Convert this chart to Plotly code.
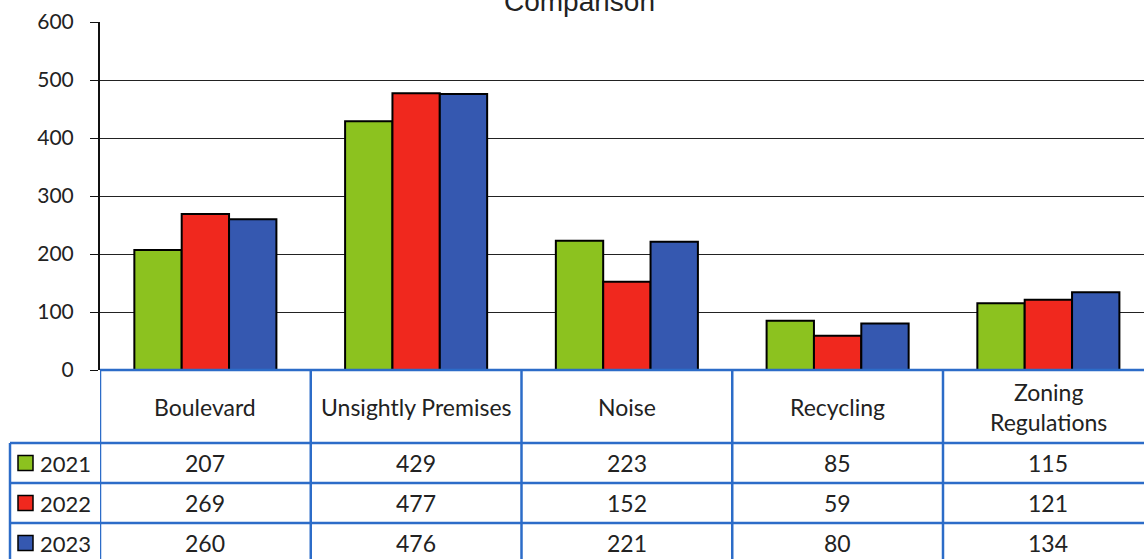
import plotly.graph_objects as go

categories = ["Boulevard", "Unsightly Premises", "Noise", "Recycling", "Zoning<br>Regulations"]
years = ["2021", "2022", "2023"]
values_2021 = [207, 429, 223, 85, 115]
values_2022 = [269, 477, 152, 59, 121]
values_2023 = [260, 476, 221, 80, 134]
series = [values_2021, values_2022, values_2023]
colors = ["#8CC21F", "#F0281E", "#3558B0"]
y_ticks = [0, 100, 200, 300, 400, 500, 600]
title_text = "Comparison"

W, H = 1144, 559
L, T = 100, 22
y0_px = 370
B = H - y0_px
PW, PH = W - L, H - T - B


def px_x(p):
    return (p - L) / PW


def px_y(p):
    return (y0_px - p) / PH


FONT = "Lato"
TBL = "#2C6CC8"
FS = 23

fig = go.Figure()
for yr, vals, col in zip(years, series, colors):
    fig.add_trace(go.Bar(
        x=list(range(len(categories))), y=vals, name=yr,
        marker=dict(color=col, line=dict(color="#000000", width=2)),
        showlegend=False, hoverinfo="x+y",
    ))

shapes = []
annotations = []

top_px = 370
header_bottom = 443
row_h = 40
row_tops = [header_bottom + i * row_h for i in range(len(years))]
ncat = len(categories)

shapes.append(dict(type="line", xref="paper", yref="paper", x0=0, x1=1,
                   y0=px_y(top_px), y1=px_y(top_px), line=dict(color=TBL, width=2.5)))
for rt in row_tops + [row_tops[-1] + row_h]:
    shapes.append(dict(type="line", xref="paper", yref="paper", x0=px_x(10), x1=1,
                       y0=px_y(rt), y1=px_y(rt), line=dict(color=TBL, width=2.5)))
for i in range(ncat + 1):
    shapes.append(dict(type="line", xref="x", yref="paper", x0=i - 0.5, x1=i - 0.5,
                       y0=px_y(top_px), y1=px_y(580), line=dict(color=TBL, width=2.5)))
shapes.append(dict(type="line", xref="paper", yref="paper", x0=px_x(10), x1=px_x(10),
                   y0=px_y(header_bottom), y1=px_y(580), line=dict(color=TBL, width=2.5)))

for i, c in enumerate(categories):
    annotations.append(dict(x=i, y=px_y((top_px + header_bottom) / 2), xref="x", yref="paper",
                            text=c, showarrow=False, font=dict(family=FONT, size=FS, color="#222"),
                            xanchor="center", yanchor="middle"))
for r, (yr, vals, col) in enumerate(zip(years, series, colors)):
    cy = row_tops[r] + row_h / 2
    for i, v in enumerate(vals):
        annotations.append(dict(x=i, y=px_y(cy), xref="x", yref="paper", text=str(v),
                                showarrow=False, font=dict(family=FONT, size=FS, color="#222"),
                                xanchor="center", yanchor="middle"))
    shapes.append(dict(type="rect", xref="paper", yref="paper", x0=px_x(18), x1=px_x(33),
                       y0=px_y(cy - 7.5), y1=px_y(cy + 7.5), fillcolor=col,
                       line=dict(color="#000", width=1.5)))
    annotations.append(dict(x=px_x(38), y=px_y(cy), xref="paper", yref="paper", text=yr,
                            showarrow=False, font=dict(family=FONT, size=22, color="#222"),
                            xanchor="left", yanchor="middle"))

annotations.append(dict(x=px_x(579), y=px_y(2), xref="paper", yref="paper", text=title_text,
                        showarrow=False, font=dict(family="Liberation Sans", size=28, color="#222"),
                        xanchor="center", yanchor="middle"))

cat_w = 210.75
fig.update_layout(
    width=W, height=H,
    margin=dict(l=L, r=0, t=T, b=B, pad=0),
    paper_bgcolor="white", plot_bgcolor="white",
    barmode="group", bargap=0.326, bargroupgap=0,
    xaxis=dict(range=[-0.5, -0.5 + PW / cat_w], showticklabels=False, showgrid=False,
               zeroline=False, showline=False, ticks=""),
    yaxis=dict(range=[0, 600], tickvals=y_ticks, showgrid=True, gridcolor="#222", gridwidth=1,
               zeroline=False, showline=True, linecolor="#111", linewidth=2,
               ticks="outside", ticklen=8, tickcolor="#111", tickwidth=1,
               ticklabelstandoff=12,
               tickfont=dict(family=FONT, size=21, color="#222")),
    shapes=shapes, annotations=annotations,
)

fig.write_html("out.html", config={"displayModeBar": False},
               post_script="document.body.style.margin='0px';document.body.style.overflow='hidden';")
